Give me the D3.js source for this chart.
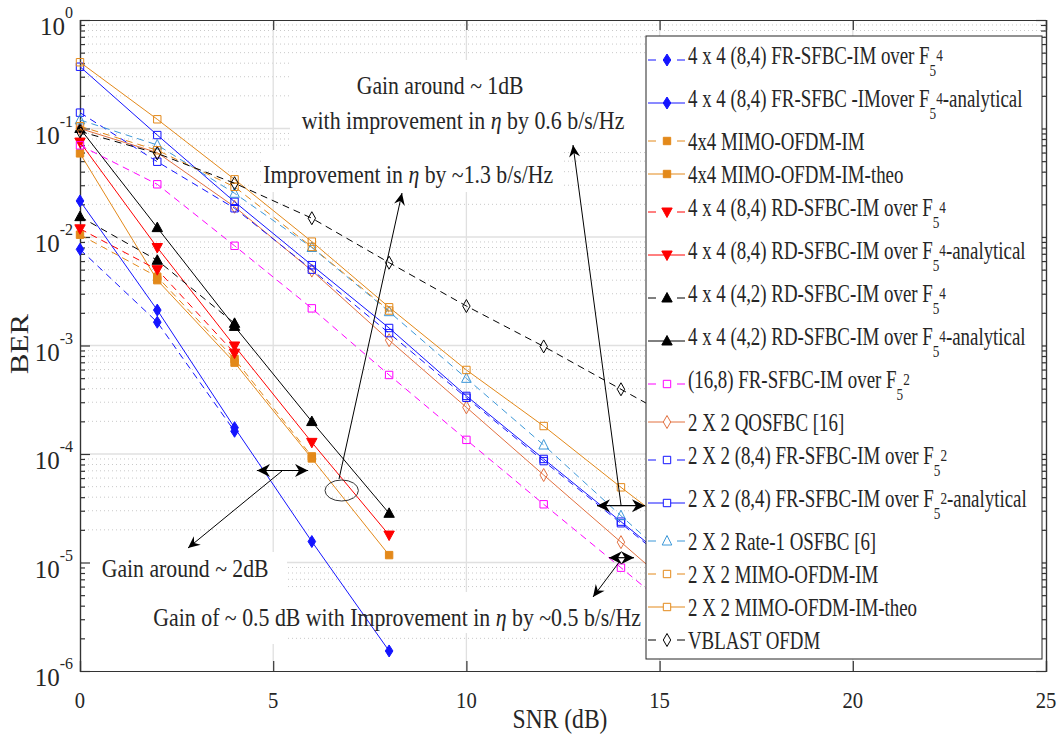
<!DOCTYPE html>
<html>
<head>
<meta charset="utf-8">
<script src="https://cdn.jsdelivr.net/npm/d3@7"></script>
<style>
  body { margin: 0; background: #fff; }
  text { font-family: "Liberation Serif", "Times New Roman", serif; fill: #262626; }
</style>
</head>
<body>
<svg id="chart" width="1060" height="738"></svg>
<script>
// ---- data -------------------------------------------------------------
const snrDb = [0, 2, 4, 6, 8, 10, 12, 14, 16];
const xTickValues = [0, 5, 10, 15, 20, 25];
const yExponents = [-6, -5, -4, -3, -2, -1, 0];

// 4x4 systems
const frsfbc44Sim   = [7.7e-3, 1.64e-3, 1.62e-4];
const frsfbc44Ana   = [2.15e-2, 2.12e-3, 1.75e-4, 1.56e-5, 1.53e-6];
const mimoIm44Sim   = [1.05e-2, 4.3e-3, 7.5e-4, 9.5e-5];
const mimoIm44Theo  = [5.9e-2, 4.0e-3, 6.95e-4, 9.1e-5, 1.17e-5];
const rdsfbc84Sim   = [1.19e-2, 5.0e-3, 8.5e-4];
const rdsfbc84Ana   = [7.5e-2, 8.0e-3, 9.9e-4, 1.28e-4, 1.79e-5];
const rdsfbc42Sim   = [1.54e-2, 6.1e-3, 1.6e-3];
const rdsfbc42Ana   = [1.0e-1, 1.22e-2, 1.5e-3, 1.99e-4, 2.84e-5];
// 2x2 systems and references
const frsfbc168Sim  = [7.0e-2, 3.06e-2, 8.3e-3, 2.2e-3, 5.35e-4, 1.35e-4, 3.44e-5, 8.96e-6, 2.3e-6];
const qosfbc        = [1.0e-1, 6.0e-2, 1.9e-2, 4.9e-3, 1.12e-3, 2.69e-4, 6.4e-5, 1.54e-5, 3.7e-6];
const frsfbc22Sim   = [1.4e-1, 4.94e-2, 1.84e-2, 5.0e-3, 1.3e-3, 3.3e-4, 8.6e-5, 2.3e-5, 6.0e-6];
const frsfbc22Ana   = [3.71e-1, 8.7e-2, 2.11e-2, 5.5e-3, 1.45e-3, 3.43e-4, 9.0e-5, 2.38e-5, 6.3e-6];
const osfbcRate1    = [1.2e-1, 7.05e-2, 2.53e-2, 8.0e-3, 2.05e-3, 4.98e-4, 1.21e-4, 2.7e-5, 6.2e-6];
const mimoIm22Sim   = [1.05e-1, 6.3e-2, 2.9e-2, 8.1e-3, 2.1e-3];
const mimoIm22Theo  = [4.08e-1, 1.216e-1, 3.4e-2, 9.06e-3, 2.25e-3, 5.95e-4, 1.81e-4, 4.93e-5, 1.4e-5];
const vblastOfdm    = [9.4e-2, 5.9e-2, 3.13e-2, 1.49e-2, 5.8e-3, 2.31e-3, 9.8e-4, 3.95e-4, 1.6e-4];

const legendLabels = [
  "4 x 4 (8,4) FR-SFBC-IM over F_5^4",
  "4 x 4 (8,4) FR-SFBC -IMover F_5^4-analytical",
  "4x4 MIMO-OFDM-IM",
  "4x4 MIMO-OFDM-IM-theo",
  "4 x 4 (8,4) RD-SFBC-IM over F_5^4",
  "4 x 4 (8,4) RD-SFBC-IM over F_5^4-analytical",
  "4 x 4 (4,2) RD-SFBC-IM over F_5^4",
  "4 x 4 (4,2) RD-SFBC-IM over F_5^4-analytical",
  "(16,8) FR-SFBC-IM over F_5^2",
  "2 X 2 QOSFBC [16]",
  "2 X 2 (8,4) FR-SFBC-IM over F_5^2",
  "2 X 2 (8,4) FR-SFBC-IM over F_5^2-analytical",
  "2 X 2 Rate-1 OSFBC [6]",
  "2 X 2 MIMO-OFDM-IM",
  "2 X 2 MIMO-OFDM-IM-theo",
  "VBLAST OFDM"
];

const seriesValues = [
  frsfbc44Sim, frsfbc44Ana, mimoIm44Sim, mimoIm44Theo,
  rdsfbc84Sim, rdsfbc84Ana, rdsfbc42Sim, rdsfbc42Ana,
  frsfbc168Sim, qosfbc, frsfbc22Sim, frsfbc22Ana,
  osfbcRate1, mimoIm22Sim, mimoIm22Theo, vblastOfdm
];

// ---- styles -----------------------------------------------------------
const BLUE = "#1414ff", ORANGE = "#e3891a", RED = "#ff0000", BLACK = "#000000",
      MAGENTA = "#ff00ff", CORAL = "#e2703f", SKY = "#3d98d8";
const seriesStyles = [
  { color: BLUE,    dashed: true,  marker: "diamond", filled: true },
  { color: BLUE,    dashed: false, marker: "diamond", filled: true },
  { color: ORANGE,  dashed: true,  marker: "square",  filled: true },
  { color: ORANGE,  dashed: false, marker: "square",  filled: true },
  { color: RED,     dashed: true,  marker: "triDown", filled: true },
  { color: RED,     dashed: false, marker: "triDown", filled: true },
  { color: BLACK,   dashed: true,  marker: "triUp",   filled: true },
  { color: BLACK,   dashed: false, marker: "triUp",   filled: true },
  { color: MAGENTA, dashed: true,  marker: "square",  filled: false },
  { color: CORAL,   dashed: false, marker: "diamondOpen", filled: false },
  { color: BLUE,    dashed: true,  marker: "square",  filled: false },
  { color: BLUE,    dashed: false, marker: "square",  filled: false },
  { color: SKY,     dashed: true,  marker: "triOpen", filled: false },
  { color: ORANGE,  dashed: true,  marker: "square",  filled: false },
  { color: ORANGE,  dashed: false, marker: "square",  filled: false },
  { color: BLACK,   dashed: true,  marker: "diamondOpen", filled: false }
];

const markerPaths = {
  diamond:     "M0,-6L3.8,0L0,6L-3.8,0Z",
  diamondOpen: "M0,-6.5L3.7,0L0,6.5L-3.7,0Z",
  square:      "M-3.7,-3.7H3.7V3.7H-3.7Z",
  triUp:       "M0,-5.5L5.2,4L-5.2,4Z",
  triDown:     "M0,5.5L5.2,-4L-5.2,-4Z",
  triOpen:     "M0,-5.5L4.8,4L-4.8,4Z"
};

// ---- frame ------------------------------------------------------------
const svg = d3.select("#chart");
const plot = { left: 80, right: 1046, top: 20, bottom: 671 };
const x = d3.scaleLinear().domain([0, 25]).range([plot.left, plot.right]);
const y = d3.scaleLog().domain([1e-6, 1]).range([plot.bottom, plot.top]);
const AXIS = "#333333";

svg.append("rect").attr("width", 1060).attr("height", 738).attr("fill", "#fff");

// squeeze a text element horizontally around its anchor
function squeeze(sel, ax, factor) {
  sel.attr("transform", `translate(${ax},0) scale(${factor},1) translate(${-ax},0)`);
}
function fitWidth(sel, ax, target) {
  const w = sel.node().getBBox().width;
  squeeze(sel, ax, target / w);
}

// rich text: _c subscript, ^c superscript, η italic
function richText(sel, str, fs, opts) {
  const subDy = opts.sub * fs, supDy = opts.sup * fs, small = opts.small * fs;
  let shift = 0, buf = "";
  const span = (txt, kind) => {
    if (!txt) return;
    const target = kind === "sub" ? subDy : kind === "sup" ? supDy : 0;
    const t = sel.append("tspan").attr("dy", target - shift).text(txt);
    if (kind === "sub" || kind === "sup") t.attr("font-size", small);
    if (kind === "it") t.attr("font-style", "italic");
    shift = target;
  };
  for (let i = 0; i < str.length; i++) {
    const c = str[i];
    if (c === "_" || c === "^") { span(buf, null); buf = ""; span(str[i + 1], c === "_" ? "sub" : "sup"); i++; }
    else if (c === "η") { span(buf, null); buf = ""; span("η", "it"); }
    else buf += c;
  }
  span(buf, null);
}

// grid
const gGrid = svg.append("g");
const minorVals = [];
yExponents.slice(0, -1).forEach(e => { for (let k = 2; k <= 9; k++) minorVals.push(k * Math.pow(10, e)); });
gGrid.selectAll(".ymin").data(minorVals).join("line")
  .attr("x1", plot.left).attr("x2", plot.right)
  .attr("y1", d => y(d)).attr("y2", d => y(d))
  .attr("stroke", "#c9c9c9").attr("stroke-width", 1).attr("stroke-dasharray", "1,3");
gGrid.selectAll(".ymaj").data(yExponents.slice(1, -1)).join("line")
  .attr("x1", plot.left).attr("x2", plot.right)
  .attr("y1", d => y(Math.pow(10, d))).attr("y2", d => y(Math.pow(10, d)))
  .attr("stroke", "#e0e0e0").attr("stroke-width", 1.3);
gGrid.selectAll(".xmaj").data(xTickValues.slice(1, -1)).join("line")
  .attr("x1", d => x(d)).attr("x2", d => x(d))
  .attr("y1", plot.top).attr("y2", plot.bottom)
  .attr("stroke", "#e0e0e0").attr("stroke-width", 1.3);

// white backgrounds of the text notes
const noteBoxes = [
  { x: 290, y: 60, w: 356, h: 90 },
  { x: 262, y: 150, w: 300, h: 42 },
  { x: 82, y: 552, w: 205, h: 92 },
  { x: 150, y: 592, w: 495, h: 41 }
];
svg.append("g").selectAll("rect").data(noteBoxes).join("rect")
  .attr("x", d => d.x).attr("y", d => d.y).attr("width", d => d.w).attr("height", d => d.h)
  .attr("fill", "#fff");

// axes (ticks pointing inward on all four sides)
const yMajorVals = yExponents.map(e => Math.pow(10, e));
const gAx = svg.append("g");
gAx.append("g").attr("transform", `translate(0,${plot.bottom})`)
  .call(d3.axisBottom(x).tickValues(xTickValues).tickSize(-10).tickFormat(""));
gAx.append("g").attr("transform", `translate(0,${plot.top})`)
  .call(d3.axisTop(x).tickValues(xTickValues).tickSize(-10).tickFormat(""));
gAx.append("g").attr("transform", `translate(${plot.left},0)`)
  .call(d3.axisLeft(y).tickValues(yMajorVals).tickSize(-10).tickFormat(""));
gAx.append("g").attr("transform", `translate(${plot.left},0)`)
  .call(d3.axisLeft(y).tickValues(minorVals).tickSize(-5).tickFormat(""));
gAx.append("g").attr("transform", `translate(${plot.right},0)`)
  .call(d3.axisRight(y).tickValues(yMajorVals).tickSize(-10).tickFormat(""));
gAx.append("g").attr("transform", `translate(${plot.right},0)`)
  .call(d3.axisRight(y).tickValues(minorVals).tickSize(-5).tickFormat(""));
gAx.selectAll("path, line").attr("stroke", AXIS).attr("stroke-width", 1.2);

// tick labels
const gLab = svg.append("g");
xTickValues.forEach(v => {
  const t = gLab.append("text").attr("x", x(v)).attr("y", 708).attr("text-anchor", "middle")
    .attr("font-size", 24).text(v);
  squeeze(t, x(v), 0.86);
});
yExponents.forEach(e => {
  const t = gLab.append("text").attr("x", 73).attr("y", y(Math.pow(10, e)) + 15)
    .attr("text-anchor", "end").attr("font-size", 25);
  t.append("tspan").text("10");
  t.append("tspan").attr("dy", -17).attr("font-size", 16).text(String(e));
});

// axis titles
const xt = gLab.append("text").attr("x", 560).attr("y", 728).attr("text-anchor", "middle")
  .attr("font-size", 27).text("SNR (dB)");
fitWidth(xt, 560, 95);
gLab.append("g").attr("transform", "translate(28,344) scale(0.8,1) rotate(-90)")
  .append("text").attr("text-anchor", "middle").attr("font-size", 31).text("BER");

// ---- series -----------------------------------------------------------
const line = d3.line().x(d => x(d[0])).y(d => y(d[1]));
const gSeries = svg.append("g");
seriesValues.forEach((vals, i) => {
  const st = seriesStyles[i];
  const pts = vals.map((v, k) => [snrDb[k], v]);
  gSeries.append("path").datum(pts).attr("d", line)
    .attr("fill", "none").attr("stroke", st.color).attr("stroke-width", 1)
    .attr("stroke-dasharray", st.dashed ? "7,5" : null);
  gSeries.append("g").selectAll("path").data(pts).join("path")
    .attr("transform", d => `translate(${x(d[0])},${y(d[1])})`)
    .attr("d", markerPaths[st.marker])
    .attr("fill", st.filled ? st.color : "none")
    .attr("stroke", st.color).attr("stroke-width", 1);
});

// ---- annotations ------------------------------------------------------
const gAnn = svg.append("g");
function head(tip, from, L, Wd, notch) {
  const a = Math.atan2(tip[1] - from[1], tip[0] - from[0]);
  const p = [[0, 0], [-L, -Wd], [-(L - notch), 0], [-L, Wd]].map(([u, v]) => [
    tip[0] + u * Math.cos(a) - v * Math.sin(a),
    tip[1] + u * Math.sin(a) + v * Math.cos(a)
  ]);
  gAnn.append("path").attr("d", "M" + p.join("L") + "Z").attr("fill", "#000");
}
const singleArrows = [
  { from: [282, 471], to: [188, 548] },
  { from: [339, 479], to: [402, 193] },
  { from: [621, 505], to: [573, 145] },
  { from: [620, 561], to: [593, 597] }
];
singleArrows.forEach(a => {
  gAnn.append("line").attr("x1", a.from[0]).attr("y1", a.from[1]).attr("x2", a.to[0]).attr("y2", a.to[1])
    .attr("stroke", "#000").attr("stroke-width", 1);
  head(a.to, a.from, 12, 5.5, 4);
});
const doubleArrows = [
  { x1: 257, x2: 308, y: 470.5 },
  { x1: 597, x2: 645, y: 505.7 },
  { x1: 609, x2: 634, y: 557.7 }
];
doubleArrows.forEach(a => {
  gAnn.append("line").attr("x1", a.x1).attr("y1", a.y).attr("x2", a.x2).attr("y2", a.y)
    .attr("stroke", "#000").attr("stroke-width", 1.2);
  head([a.x1, a.y], [a.x2, a.y], 13, 6.5, 4);
  head([a.x2, a.y], [a.x1, a.y], 13, 6.5, 4);
});
gAnn.append("ellipse").attr("cx", 341.7).attr("cy", 490.5).attr("rx", 16.7).attr("ry", 10.5)
  .attr("fill", "none").attr("stroke", "#333").attr("stroke-width", 1);

const notes = [
  { text: "Gain around ~ 1dB", x: 356.7, y: 94, w: 167 },
  { text: "with improvement in η by 0.6 b/s/Hz", x: 301.7, y: 129, w: 323 },
  { text: "Improvement in η by ~1.3 b/s/Hz", x: 263.3, y: 183, w: 290 },
  { text: "Gain around ~ 2dB", x: 101.7, y: 577, w: 167 },
  { text: "Gain of ~ 0.5 dB with Improvement in η by ~0.5 b/s/Hz", x: 153.3, y: 626, w: 488 }
];
notes.forEach(n => {
  const t = gAnn.append("text").attr("x", n.x).attr("y", n.y).attr("font-size", 26);
  richText(t, n.text, 26, { sub: 0.3, sup: -0.4, small: 0.7 });
  fitWidth(t, n.x, n.w);
});

// ---- legend -----------------------------------------------------------
const leg = { x: 646, y: 36, w: 396, h: 623 };
const gLeg = svg.append("g");
gLeg.append("rect").attr("x", leg.x).attr("y", leg.y).attr("width", leg.w).attr("height", leg.h)
  .attr("fill", "#fff").attr("stroke", "#262626").attr("stroke-width", 1);
let cy = leg.y + 2.5;
legendLabels.forEach((lab, i) => {
  const st = seriesStyles[i];
  const hasSub = lab.includes("_");
  const rowH = hasSub ? 43 : 33;
  const ly = cy + rowH / 2;
  cy += rowH;
  if (st.dashed) {
    [[648, 656], [677, 685]].forEach(([a, b]) =>
      gLeg.append("line").attr("x1", a).attr("x2", b).attr("y1", ly).attr("y2", ly)
        .attr("stroke", st.color).attr("stroke-width", 1));
  } else {
    gLeg.append("line").attr("x1", 648).attr("x2", 685).attr("y1", ly).attr("y2", ly)
      .attr("stroke", st.color).attr("stroke-width", 1);
  }
  gLeg.append("path").attr("transform", `translate(667,${ly})`).attr("d", markerPaths[st.marker])
    .attr("fill", st.filled ? st.color : "#fff").attr("stroke", st.color).attr("stroke-width", 1);
  const t = gLeg.append("text").attr("x", 688).attr("y", ly + (hasSub ? 4.5 : 9.5)).attr("font-size", 25);
  richText(t, lab, 25, { sub: 0.46, sup: -0.15, small: 0.7 });
  squeeze(t, 688, 0.755);
});
</script>
</body>
</html>
